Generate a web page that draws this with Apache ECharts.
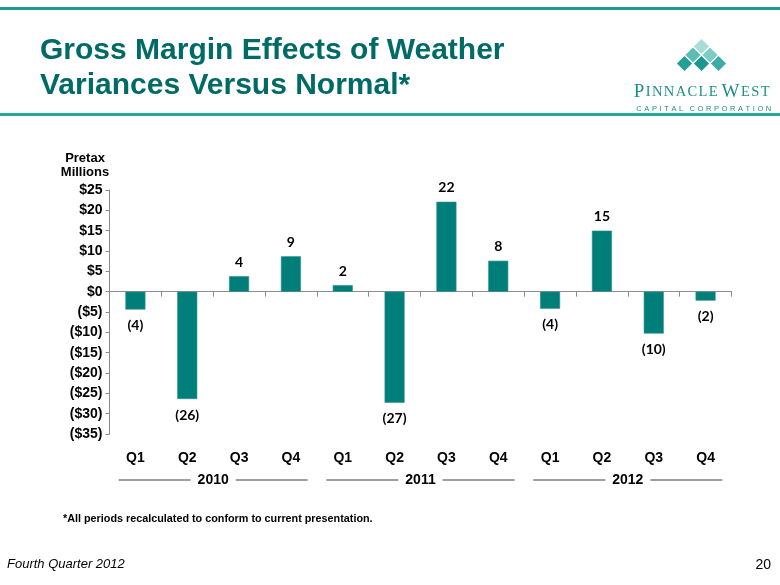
<!DOCTYPE html>
<html>
<head>
<meta charset="utf-8">
<script src="https://cdn.jsdelivr.net/npm/echarts@6/dist/echarts.min.js"></script>
<style>
html,body{margin:0;padding:0;background:#fff;}
#chart{width:780px;height:585px;}
</style>
</head>
<body>
<div id="chart"></div>
<script>
// ---- data ----
const quarters = ['Q1','Q2','Q3','Q4','Q1','Q2','Q3','Q4','Q1','Q2','Q3','Q4'];
const years = ['2010','2011','2012'];
const values = [-4.4, -26.4, 3.8, 8.7, 1.6, -27.3, 22.1, 7.6, -4.2, 15.0, -10.3, -2.2];
const yTicks = { min: -35, max: 25, interval: 5 };

const SANS = 'Liberation Sans, Arial, sans-serif';
const TEAL_DARK = '#006b66';
const BAR = '#007f7a';

function money(v){ return v < 0 ? '($' + (-v) + ')' : '$' + v; }
function barLabel(v){ const r = Math.round(Math.abs(v)); return v < 0 ? '(' + r + ')' : String(r); }

// logo text helpers (small caps with letter spacing)
function smallCaps(word){
  let out = '';
  for (const ch of word){
    if (ch === ' ') { out += '{sp| }'; continue; }
    out += (ch === 'P' || ch === 'W') ? '{b|' + ch + '}' : '{s|' + ch + '}';
  }
  return out;
}
function spaced(word){
  let out = '';
  for (const ch of word){ out += ch === ' ' ? '{sp| }' : '{c|' + ch + '}'; }
  return out;
}

const chart = echarts.init(document.getElementById('chart'), null, {renderer:'canvas'});

const diamonds = [
  [701.5, 46.5, '#a9ddd6'],
  [693, 55, '#5dbdb3'], [710, 55, '#7dcbc3'],
  [684.5, 63.5, '#239f95'], [701.5, 63.5, '#1b978d'], [718.5, 63.5, '#3aaea4']
];
const dHalf = 7.6;

const graphics = [
  {type:'rect', shape:{x:0, y:7, width:780, height:3}, style:{fill:'#1a9a92'}},
  {type:'rect', shape:{x:0, y:113, width:780, height:3}, style:{fill:'#2aa59d'}},
  {type:'text', x:85, y:151, style:{text:'Pretax\nMillions', textAlign:'center', font:'bold 13px ' + SANS, lineHeight:14, fill:'#000'}},
  {type:'text', x:63, y:514, style:{text:'*All periods recalculated to conform to current presentation.', font:'bold 10.8px ' + SANS, fill:'#000'}},
  {type:'text', x:7, y:558, style:{text:'Fourth Quarter 2012', font:'italic 13px ' + SANS, fill:'#000'}},
  {type:'text', x:771, y:558, style:{text:'20', textAlign:'right', font:'14px ' + SANS, fill:'#000'}},
  {type:'text', x:633, y:83, style:{
    rich:{
      b:{font:'19px Liberation Serif, serif', fill:'#1d8f88', padding:[0,0.7,0,0.7]},
      s:{font:'14.5px Liberation Serif, serif', fill:'#1d8f88', padding:[0,0.7,0,0.7]},
      sp:{font:'10px Liberation Serif, serif', padding:[0,0,0,0]}
    },
    text: smallCaps('PINNACLE WEST')
  }},
  {type:'text', x:635, y:105, style:{
    rich:{
      c:{font:'7.5px ' + SANS, fill:'#1d8f88', padding:[0,1.3,0,1.3]},
      sp:{font:'7.5px ' + SANS, padding:[0,0.8,0,0.8]}
    },
    text: spaced('CAPITAL CORPORATION')
  }}
];
diamonds.forEach(d => {
  graphics.push({type:'polygon', shape:{points:[[d[0], d[1]-dHalf],[d[0]+dHalf, d[1]],[d[0], d[1]+dHalf],[d[0]-dHalf, d[1]]]}, style:{fill:d[2]}});
});

const option = {
  backgroundColor:'#fff',
  animation:false,
  title:{
    text:'Gross Margin Effects of Weather\nVariances Versus Normal*',
    left:35, top:28,
    textStyle:{fontFamily:SANS, fontWeight:'bold', fontSize:30, lineHeight:35, color:TEAL_DARK}
  },
  grid:{left:109.5, right:48.5, top:190, bottom:151, containLabel:false},
  xAxis:[
    {type:'category', data:quarters, position:'bottom',
      axisLine:{show:true, onZero:true, lineStyle:{color:'#8c8c8c', width:1}},
      axisTick:{show:true, length:5, lineStyle:{color:'#8c8c8c'}},
      axisLabel:{show:false}, splitLine:{show:false}},
    {type:'category', data:quarters, position:'bottom',
      axisLine:{show:false, onZero:false}, axisTick:{show:false}, splitLine:{show:false},
      axisLabel:{margin:17, fontFamily:SANS, fontWeight:'bold', fontSize:14, color:'#000'}},
    {type:'category', data:years, position:'bottom',
      axisLine:{show:false, onZero:false}, axisTick:{show:false}, splitLine:{show:false},
      axisLabel:{margin:38, color:'#000',
        formatter: v => '{l| }{y|' + v + '}{l| }',
        rich:{
          l:{width:72, height:1.5, backgroundColor:'#7f7f7f', verticalAlign:'middle', fontSize:1},
          y:{fontFamily:SANS, fontWeight:'bold', fontSize:14, color:'#000', padding:[0,7,0,7], verticalAlign:'middle', lineHeight:16}
        }}}
  ],
  yAxis:{
    type:'value', min:yTicks.min, max:yTicks.max, interval:yTicks.interval,
    axisLine:{show:true, onZero:false, lineStyle:{color:'#8c8c8c'}},
    axisTick:{show:true, length:4, lineStyle:{color:'#8c8c8c'}},
    splitLine:{show:false},
    axisLabel:{formatter:money, margin:7, fontFamily:SANS, fontWeight:'bold', fontSize:14, color:'#000'}
  },
  series:[{
    type:'bar', xAxisIndex:0, barWidth:20,
    itemStyle:{color:BAR, borderColor:'#2b8f89', borderWidth:0.6},
    data: values.map(v => ({value:v, label:{position: v < 0 ? 'bottom' : 'top', distance: v < 0 ? 9 : 7}})),
    label:{show:true, formatter: p => barLabel(p.value), fontFamily:'Lato, Carlito, sans-serif', fontWeight:'bold', fontSize:14, color:'#000'}
  }],
  graphic: graphics
};
chart.setOption(option);
</script>
</body>
</html>
